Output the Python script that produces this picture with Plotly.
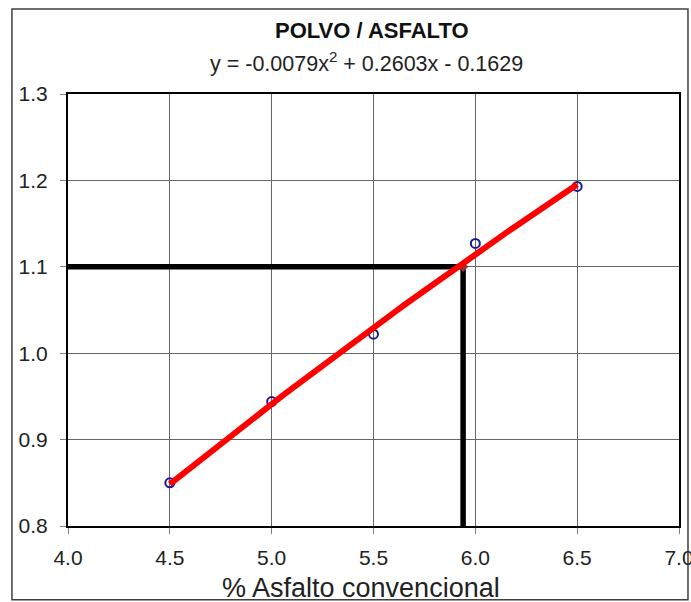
import numpy as np
import plotly.graph_objects as go

# Measured data: % asphalt vs dust/asphalt ratio
asfalto = [4.5, 5.0, 5.5, 6.0, 6.5]
polvo_asfalto = [0.850, 0.944, 1.022, 1.127, 1.193]

# Polynomial trend line coefficients (y = a*x^2 + b*x + c)
coef_a, coef_b, coef_c = -0.0079, 0.2603, -0.1629
trend_range = [4.5, 6.5]

# Design value
ratio_objetivo = 1.1
asfalto_objetivo = 5.94

x_ticks = [4.0, 4.5, 5.0, 5.5, 6.0, 6.5, 7.0]
y_ticks = [0.8, 0.9, 1.0, 1.1, 1.2, 1.3]

x_fit = np.linspace(trend_range[0], trend_range[1], 60)
y_fit = coef_a * x_fit**2 + coef_b * x_fit + coef_c

fig = go.Figure()

# Guide lines to the design point
fig.add_trace(go.Scatter(
    x=[x_ticks[0], asfalto_objetivo, asfalto_objetivo],
    y=[ratio_objetivo, ratio_objetivo, y_ticks[0]],
    mode="lines", line=dict(color="black", width=5.5),
    hoverinfo="skip", showlegend=False, cliponaxis=False))

# Measured points
fig.add_trace(go.Scatter(
    x=asfalto, y=polvo_asfalto, mode="markers",
    marker=dict(symbol="circle-open", size=9, color="#1a1a99",
                line=dict(width=2, color="#1a1a99")),
    showlegend=False))

# Design point marker
fig.add_trace(go.Scatter(
    x=[asfalto_objetivo], y=[ratio_objetivo], mode="markers",
    marker=dict(symbol="diamond", size=8, color="#8b3a3a"),
    showlegend=False))

# Trend line
fig.add_trace(go.Scatter(
    x=x_fit, y=y_fit, mode="lines",
    line=dict(color="#ff0000", width=6),
    showlegend=False))

font_main = "Liberation Sans, Arial, sans-serif"

fig.update_layout(
    width=691, height=602,
    margin=dict(l=68, r=12, t=94, b=76, autoexpand=False),
    paper_bgcolor="white", plot_bgcolor="white",
    font=dict(family=font_main, size=21, color="#222222"),
    xaxis=dict(range=[4.0, 7.0], tickvals=x_ticks,
               ticktext=[f"{v:.1f}" for v in x_ticks],
               showgrid=True, gridcolor="#666666", gridwidth=1,
               showline=True, linecolor="black", linewidth=2, mirror=True,
               ticks="outside", ticklen=6, tickcolor="#808080",
               ticklabelstandoff=6, zeroline=False, automargin=False,
               ticklabeloverflow="allow",
               tickfont=dict(size=21, color="#222222")),
    yaxis=dict(range=[0.8, 1.3], tickvals=y_ticks,
               ticktext=[f"{v:.1f}" for v in y_ticks],
               showgrid=True, gridcolor="#666666", gridwidth=1,
               showline=True, linecolor="black", linewidth=2, mirror=True,
               ticks="outside", ticklen=6, tickcolor="#808080",
               ticklabelstandoff=8, zeroline=False, automargin=False,
               tickfont=dict(size=21, color="#222222")),
    annotations=[
        dict(text="<b>POLVO / ASFALTO</b>", xref="paper", yref="paper",
             x=0.497, y=1.148, xanchor="center", yanchor="middle",
             showarrow=False, font=dict(size=22, color="#111111")),
        dict(text="y = -0.0079x<sup>2</sup> + 0.2603x - 0.1629",
             xref="paper", yref="paper",
             x=0.488, y=1.074, xanchor="center", yanchor="middle",
             showarrow=False, font=dict(size=21.5, color="#222222")),
        dict(text="% Asfalto convencional", xref="paper", yref="paper",
             x=0.48, y=-0.143, xanchor="center", yanchor="middle",
             showarrow=False, font=dict(size=27, color="#222222")),
    ],
    shapes=[
        dict(type="rect", xref="paper", yref="paper",
             x0=-0.0917, x1=1.0147, y0=-0.171, y1=1.1968,
             line=dict(color="#404040", width=1.5), layer="below"),
    ],
)

fig.write_html("out.html")
